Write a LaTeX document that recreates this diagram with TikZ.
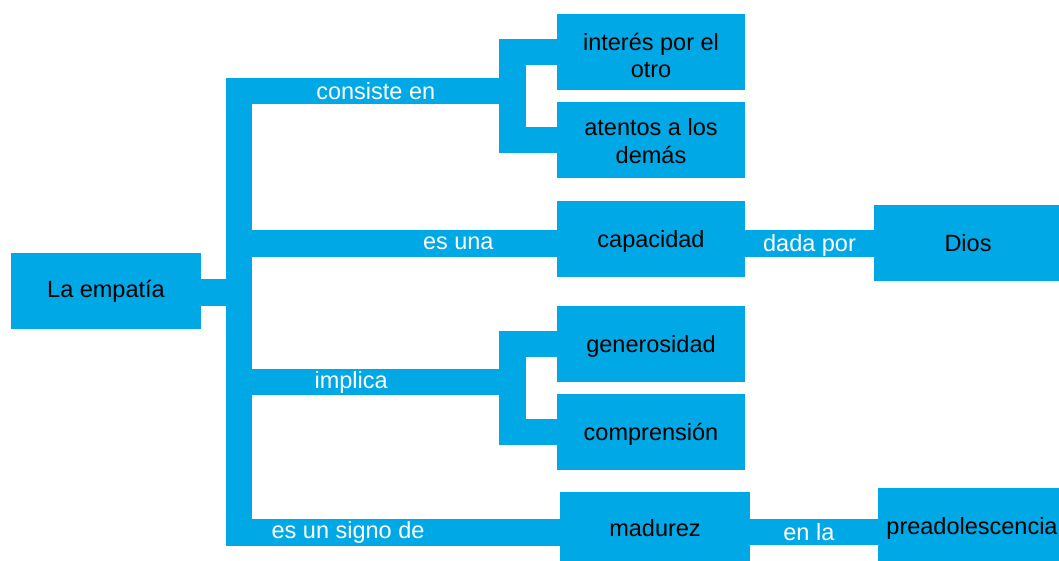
\documentclass[tikz,border=0pt]{standalone}
\usepackage{fontspec}
\setmainfont{Liberation Sans}
\definecolor{cmblue}{RGB}{0,169,230}
\newcommand\diafont{\fontsize{23.5}{27.5}\selectfont}
\begin{document}
\begin{tikzpicture}[x=1pt,y=-1pt,
  box/.style={fill=cmblue, draw=none, minimum width=188pt, minimum height=76pt, inner sep=0pt},
  txt/.style={align=center, text=black, font=\diafont, inner sep=0pt},
  bar/.style={draw=cmblue, line width=26.5pt, line join=miter},
  lbl/.style={text=white, font=\diafont, inner sep=0pt}]
\useasboundingbox (0,0) rectangle (1059,560);
\clip (0,0) rectangle (1059,560);
% nodes
\node[box, minimum width=190pt, label={[txt]center:La empatía}] (emp) at (106,291) {};
\node[box, label={[txt,yshift=-3.5pt]center:{interés por el\\otro}}] (int) at (651,52) {};
\node[box, label={[txt,yshift=-1pt]center:{atentos a los\\demás}}] (ate) at (651,140) {};
\node[box, label={[txt,yshift=-2.5pt]center:capacidad}] (cap) at (651,239) {};
\node[box, label={[txt]center:Dios}] (dios) at (968,243) {};
\node[box, label={[txt,yshift=-2.5pt]center:generosidad}] (gen) at (651,344) {};
\node[box, label={[txt,yshift=-2.5pt]center:comprensión}] (com) at (651,432) {};
\node[box, minimum width=190pt, label={[txt,yshift=1.5pt]center:madurez}] (mad) at (655,530) {};
\node[box, label={[txt,yshift=-2.5pt]center:preadolescencia}] (pre) at (972,526) {};
% junction coordinates
\coordinate (T) at (239,91);
\coordinate (B) at (239,532.5);
\coordinate (J1) at (512.5,91);
\coordinate (J2) at (512.5,382);
\coordinate (S) at (239,292.5);
\coordinate (E) at (239,243.5);
\coordinate (I) at (239,382);
\coordinate (D) at (800,243.5);
\coordinate (M) at (800,532);
% connectors
\draw[bar] (J1) -- node[lbl]{consiste en} (T) -- (B) -- node[lbl,pos=0.34]{es un signo de} (B -| mad.west);
\draw[bar] (S -| emp.east) -- (S);
\draw[bar] (E) -- node[lbl,pos=0.69]{es una} (E -| cap.west);
\draw[bar] (I) -- node[lbl,pos=0.41]{implica} (J2);
\draw[bar] (int.west) -- (int.west -| J1) -- (ate.west -| J1) -- (ate.west);
\draw[bar] (gen.west) -- (gen.west -| J2) -- (com.west -| J2) -- (com.west);
\draw[bar] (D -| cap.east) -- node[lbl,yshift=-2pt]{dada por} (D -| dios.west);
\draw[bar] (M -| mad.east) -- node[lbl,pos=0.46]{en la} (M -| pre.west);
\end{tikzpicture}
\end{document}
